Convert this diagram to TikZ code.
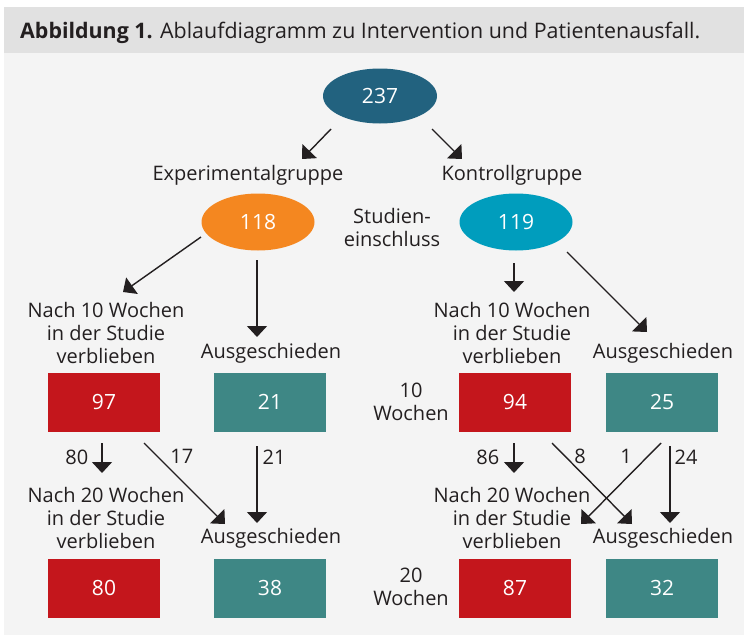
\documentclass[tikz,border=0pt]{standalone}
\usepackage{fontspec}
\setmainfont{Open Sans}
\usetikzlibrary{shapes.geometric,arrows.meta,calc}
\definecolor{hdrgray}{HTML}{E1E1E1}
\definecolor{panelgray}{HTML}{F4F4F4}
\definecolor{inkdark}{HTML}{231F20}
\definecolor{allblue}{HTML}{22627F}
\definecolor{expor}{HTML}{F48720}
\definecolor{konblue}{HTML}{009DBD}
\definecolor{stayred}{HTML}{C4161C}
\definecolor{outteal}{HTML}{3E8785}
\tikzset{
    grp/.style={ellipse, minimum width=113pt, minimum height=57pt, inner sep=0pt,
        text=white, font=\fontsize{21}{24}\selectfont},
    numbox/.style={rectangle, minimum width=112pt, minimum height=59pt, inner sep=0pt,
        text=white, font=\fontsize{21}{24}\selectfont},
    lbl/.style={align=center, text=inkdark, inner sep=0pt,
        font=\fontsize{20}{23}\selectfont},
    num/.style={text=inkdark, inner sep=0pt, font=\fontsize{20}{23}\selectfont},
    arr/.style={draw=inkdark, line width=1.4pt, -{Triangle[length=11pt, width=20pt]}},
}
\begin{document}
\begin{tikzpicture}[x=1pt, y=-1pt]
    \useasboundingbox (0,0) rectangle (744,635);
    \fill[panelgray] (4,53) rectangle (744,635);
    \fill[hdrgray] (4,7) rectangle (744,53);
    \node[anchor=west, inner sep=0pt, text=inkdark, font=\fontsize{21.4}{24}\selectfont]
        (title) at (20,33) {\textbf{Abbildung 1.} Ablaufdiagramm zu Intervention und Patientenausfall.};

    % Studieneinschluss
    \node[grp, fill=allblue, minimum width=114pt, minimum height=55pt] (e237) at (380,96) {237};
    \node[lbl] (gExp) at (248,175) {Experimentalgruppe};
    \node[lbl] (gKon) at (512,175) {Kontrollgruppe};
    \node[grp, fill=expor] (e118) at (258,222) {118};
    \node[grp, fill=konblue] (e119) at (516,222) {119};
    \node[lbl] (studien) at (392,227) {Studien-\\einschluss};

    % nach 10 Wochen
    \node[lbl] (n10L) at (106,333) {Nach 10 Wochen\\in der Studie\\verblieben};
    \node[lbl] (a10L) at (271,353) {Ausgeschieden};
    \node[lbl] (n10R) at (512,333) {Nach 10 Wochen\\in der Studie\\verblieben};
    \node[lbl] (a10R) at (663,353) {Ausgeschieden};
    \node[numbox, fill=stayred] (b97) at (104,402) {97};
    \node[numbox, fill=outteal] (b21) at (270,402) {21};
    \node[numbox, fill=stayred] (b94) at (515,402) {94};
    \node[numbox, fill=outteal] (b25) at (662,402) {25};
    \node[lbl] (w10) at (411,402) {10\\Wochen};

    % nach 20 Wochen
    \node[lbl] (n20L) at (106,518) {Nach 20 Wochen\\in der Studie\\verblieben};
    \node[lbl] (a20L) at (271,538) {Ausgeschieden};
    \node[lbl] (n20R) at (512,518) {Nach 20 Wochen\\in der Studie\\verblieben};
    \node[lbl] (a20R) at (663,538) {Ausgeschieden};
    \node[numbox, fill=stayred] (b80) at (104,588) {80};
    \node[numbox, fill=outteal] (b38) at (270,588) {38};
    \node[numbox, fill=stayred] (b87) at (515,588) {87};
    \node[numbox, fill=outteal] (b32) at (662,588) {32};
    \node[lbl] (w20) at (411,587) {20\\Wochen};

    % Pfeile
    \draw[arr] ($(e237)+(-49,33)$) -- ($(gExp)+(54,-16)$);
    \draw[arr] ($(e237)+(52,33)$) -- ($(gKon)+(-50,-16)$);
    \draw[arr] ($(e118)+(-57,15)$) -- ($(n10L)+(17,-41)$);
    \draw[arr] ($(e118)+(-1,38)$) -- ($(a10L)+(-14,-16)$);
    \draw[arr] ($(e119)+(-2,41)$) -- ($(n10R)+(2,-41)$);
    \draw[arr] ($(e119)+(51,30)$) -- ($(a10R)+(-16,-21)$);

    \draw[arr] ($(b97)+(-2,41)$) -- ($(n20L)+(-4,-45)$) node[num, pos=.47, left=13pt] {80};
    \draw[arr] ($(b97)+(40,41)$) -- ($(a20L)+(-46,-14)$) node[num, pos=.17, right=12pt] {17};
    \draw[arr] ($(b21)+(-13,44)$) -- ($(a20L)+(-14,-15)$) node[num, pos=.14, right=5pt] {21};
    \draw[arr] ($(b94)+(-1,41)$) -- ($(n20R)+(2,-45)$) node[num, pos=.47, left=14pt] {86};
    \draw[arr] ($(b94)+(37,41)$) -- ($(a20R)+(-31,-14)$) node[num, pos=.17, right=8pt] {8};
    \draw[arr] ($(b25)+(-1,41)$) -- ($(n20R)+(69,6)$) node[num, pos=.17, left=15pt] {1};
    \draw[arr] ($(b25)+(8,44)$) -- ($(a20R)+(7,-15)$) node[num, pos=.14, right=4pt] {24};
\end{tikzpicture}
\end{document}
